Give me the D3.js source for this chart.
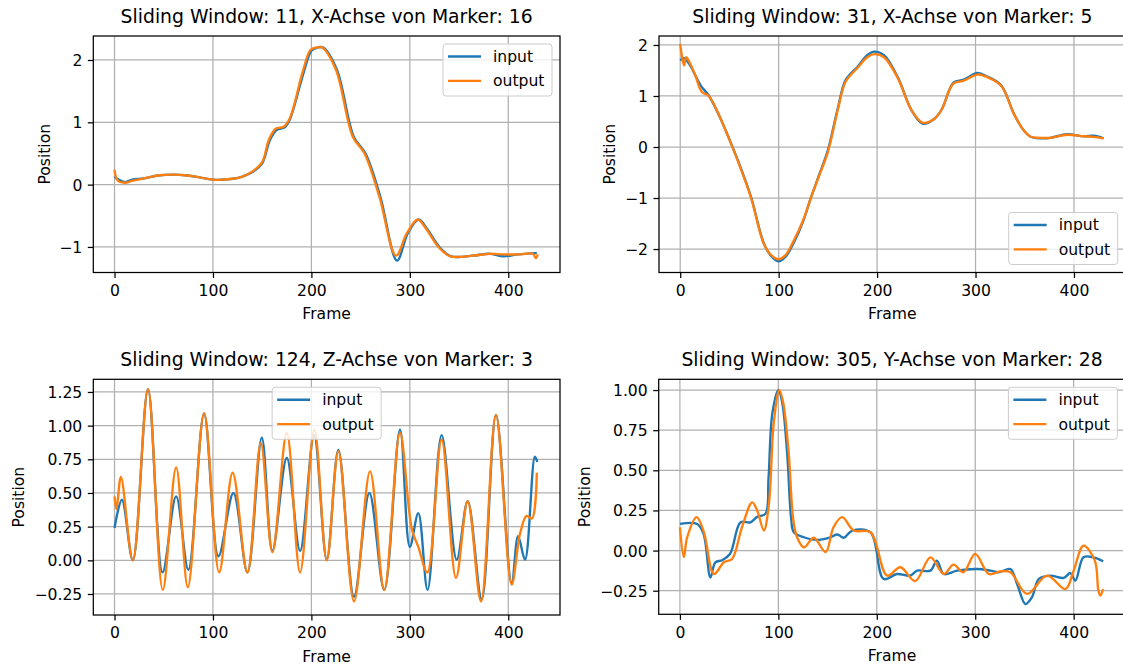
<!DOCTYPE html>
<html>
<head>
<meta charset="utf-8">
<script src="https://cdn.jsdelivr.net/npm/d3@7"></script>
<style>
  html, body { margin: 0; padding: 0; background: #ffffff; }
  svg { display: block; }
  text { font-family: "DejaVu Sans", sans-serif; fill: #000; }
</style>
</head>
<body>
<svg id="fig" width="1123" height="666"></svg>
<script>
// ---- data: [frame, position] pairs per series ----
const titles = [
  "Sliding Window: 11, X-Achse von Marker: 16",
  "Sliding Window: 31, X-Achse von Marker: 5",
  "Sliding Window: 124, Z-Achse von Marker: 3",
  "Sliding Window: 305, Y-Achse von Marker: 28"
];
const seriesNames = ["input", "output"];
const xTickValues = [0, 100, 200, 300, 400];
const yTicks1 = [-1, 0, 1, 2];
const yTicks2 = [-2, -1, 0, 1, 2];
const yTicks3 = [-0.25, 0, 0.25, 0.5, 0.75, 1.0, 1.25];
const yTicks4 = [-0.25, 0, 0.25, 0.5, 0.75, 1.0];

const p1Input = [[0,0.13],[4,0.08],[11,0.04],[18,0.08],[30,0.1],[46,0.15],[60,0.16],[72,0.15],[85,0.12],[100,0.08],[118,0.09],[130,0.13],[141,0.21],[150,0.34],[158,0.72],[165,0.88],[173,0.92],[178,1.04],[192,1.79],[200,2.15],[206,2.2],[212,2.2],[226,1.84],[243,0.77],[255,0.5],[270,-0.19],[287,-1.22],[298,-0.78],[309,-0.56],[318,-0.72],[330,-1.0],[342,-1.15],[364,-1.14],[381,-1.11],[395,-1.15],[410,-1.12],[429,-1.1]];
const p1Output = [[0,0.24],[3,0.07],[10,0.03],[18,0.06],[30,0.1],[46,0.15],[60,0.16],[72,0.15],[85,0.12],[100,0.08],[118,0.09],[130,0.13],[141,0.22],[150,0.36],[157,0.73],[164,0.9],[172,0.93],[178,1.06],[191,1.8],[199,2.16],[205,2.2],[211,2.2],[225,1.84],[242,0.77],[254,0.5],[269,-0.19],[286,-1.14],[297,-0.78],[308,-0.56],[317,-0.72],[329,-1.0],[341,-1.15],[364,-1.14],[381,-1.11],[395,-1.12],[410,-1.12],[425,-1.11],[428,-1.18],[430,-1.12]];

const p2Input = [[0,1.7],[4,1.74],[10,1.6],[21,1.2],[29,1.01],[40,0.6],[50,0.15],[60,-0.33],[72,-0.98],[85,-1.89],[93,-2.15],[100,-2.24],[107,-2.15],[115,-1.89],[125,-1.45],[133,-0.98],[142,-0.5],[150,-0.06],[160,0.75],[168,1.31],[180,1.57],[190,1.8],[197,1.87],[207,1.8],[221,1.37],[235,0.72],[246,0.46],[258,0.55],[266,0.75],[273,1.1],[278,1.27],[288,1.32],[302,1.45],[312,1.38],[326,1.21],[339,0.65],[348,0.35],[356,0.2],[366,0.17],[376,0.18],[393,0.25],[410,0.21],[420,0.22],[430,0.17]];
const p2Output = [[0,2.02],[2,1.75],[4,1.6],[6,1.76],[9,1.68],[15,1.42],[22,1.08],[29,1.0],[40,0.6],[50,0.14],[60,-0.35],[72,-1.0],[85,-1.9],[93,-2.13],[100,-2.2],[107,-2.12],[115,-1.85],[125,-1.43],[133,-0.98],[142,-0.52],[150,-0.1],[160,0.72],[168,1.28],[180,1.55],[190,1.76],[197,1.82],[207,1.76],[221,1.35],[235,0.72],[246,0.48],[258,0.55],[266,0.75],[273,1.1],[278,1.25],[288,1.3],[302,1.42],[312,1.37],[326,1.2],[339,0.65],[348,0.35],[356,0.2],[366,0.18],[376,0.18],[393,0.24],[410,0.21],[420,0.2],[430,0.17]];

const p3Input = [[0,0.24],[7.5,0.45],[18.6,0.0],[34,1.27],[48.8,-0.09],[62.6,0.475],[75,-0.07],[91,1.09],[105.6,0.03],[120.8,0.5],[135,-0.09],[149.6,0.91],[160.4,0.07],[175,0.76],[188.5,0.07],[202.7,0.93],[215.6,0.005],[227.4,0.82],[243.3,-0.27],[258.9,0.5],[274,-0.22],[290,0.97],[300,0.1],[308.6,0.35],[318,-0.22],[332.3,0.93],[347.6,0.005],[358.8,0.44],[373,-0.29],[387.5,1.08],[403.4,-0.17],[410,0.18],[417,0.005],[427,0.77],[429.5,0.73]];
const p3Output = [[0,0.475],[2,0.38],[6.5,0.62],[18.6,0.0],[34,1.27],[49,-0.22],[62.6,0.69],[74.5,-0.2],[91,1.09],[106.3,-0.09],[120,0.65],[135,-0.09],[148.6,0.87],[160.4,0.06],[175,0.945],[188.5,-0.09],[203,0.97],[215.6,0.0],[227.4,0.81],[243.3,-0.305],[259.6,0.66],[274,-0.22],[290,0.945],[302,0.23],[308.6,0.1],[317.8,-0.09],[332.3,0.895],[346.9,-0.13],[358.8,0.44],[372.3,-0.305],[387.5,1.08],[403.4,-0.18],[412,0.2],[418.6,0.33],[424,0.31],[429,0.65]];

const p4Input = [[0,0.166],[17.6,0.166],[24,0.104],[31,-0.167],[36,-0.073],[43,-0.06],[51,-0.02],[61.6,0.176],[71.7,0.176],[78.5,0.21],[87,0.23],[90,0.45],[94,0.86],[100,1.0],[104,0.92],[109,0.6],[113,0.2],[115.7,0.114],[126,0.083],[139,0.066],[153,0.083],[160,0.1],[166.5,0.08],[175,0.125],[193.6,0.114],[207,-0.177],[220.6,-0.146],[234,-0.156],[241,-0.125],[254.5,-0.125],[261,-0.063],[268,-0.146],[281.6,-0.125],[302,-0.115],[315.4,-0.125],[324,-0.135],[335.7,-0.115],[342.5,-0.208],[351,-0.333],[357.7,-0.29],[364.5,-0.177],[376,-0.156],[390,-0.17],[396.6,-0.14],[401.7,-0.187],[410,-0.042],[420,-0.042],[430,-0.067]];
const p4Output = [[0,0.145],[4,-0.04],[7.4,0.083],[17,0.208],[24.4,0.114],[34.5,-0.146],[44.7,-0.073],[53,-0.052],[63,0.145],[73.4,0.3],[78.5,0.25],[85.3,0.125],[90.4,0.29],[95.4,0.8],[101,1.0],[105,0.92],[110.6,0.6],[115,0.2],[119,0.083],[126,0.02],[136,0.08],[148,-0.01],[156,0.145],[164.8,0.208],[176.6,0.125],[193.6,0.114],[210.5,-0.156],[224,-0.104],[239,-0.19],[254.5,-0.042],[268,-0.146],[278,-0.088],[288,-0.135],[300,-0.021],[313.7,-0.146],[325.5,-0.13],[335.7,-0.135],[352.6,-0.27],[373,-0.156],[391.5,-0.24],[400,-0.125],[410,0.031],[421.5,-0.063],[425,-0.245],[427,-0.28],[430,-0.24]];

// ---- layout ----
const colors = ["#1f77b4", "#ff7f0e"];
const xDomain = [-21.55, 452.55];
const panels = [
  { title: titles[0], series: [p1Input, p1Output], yTicks: yTicks1, fmt: d3.format("d"),
    yDomain: [-1.41, 2.385], box: { l: 93.3, r: 560, t: 36, b: 272.5 },
    ylabelOff: 43.5, legend: "upper right" },
  { title: titles[1], series: [p2Input, p2Output], yTicks: yTicks2, fmt: d3.format("d"),
    yDomain: [-2.46, 2.176], box: { l: 659, r: 1125.7, t: 36, b: 272.5 },
    ylabelOff: 44, legend: "lower right" },
  { title: titles[2], series: [p3Input, p3Output], yTicks: yTicks3, fmt: d3.format(".2f"),
    yDomain: [-0.406, 1.344], box: { l: 93.3, r: 560, t: 379.3, b: 615 },
    ylabelOff: 69.3, legend: "upper center" },
  { title: titles[3], series: [p4Input, p4Output], yTicks: yTicks4, fmt: d3.format(".2f"),
    yDomain: [-0.397, 1.067], box: { l: 658.7, r: 1125.4, t: 379.3, b: 614.3 },
    ylabelOff: 68.7, legend: "upper right" }
];

const svg = d3.select("#fig");
const FS = 15.6;        // tick / label / legend font size
const TFS = 18.8;       // title font size
const gridColor = "#b0b0b0";

panels.forEach((p, i) => {
  const { l, r, t, b } = p.box;
  const x = d3.scaleLinear().domain(xDomain).range([l, r]);
  const y = d3.scaleLinear().domain(p.yDomain).range([b, t]);
  const g = svg.append("g");

  const clipId = "clip" + i;
  g.append("clipPath").attr("id", clipId)
    .append("rect").attr("x", l).attr("y", t).attr("width", r - l).attr("height", b - t);

  // grid
  const grid = g.append("g");
  grid.selectAll("line.gx").data(xTickValues).join("line")
    .attr("x1", d => x(d)).attr("x2", d => x(d)).attr("y1", t).attr("y2", b)
    .attr("stroke", gridColor).attr("stroke-width", 1.25);
  grid.selectAll("line.gy").data(p.yTicks).join("line")
    .attr("x1", l).attr("x2", r).attr("y1", d => y(d)).attr("y2", d => y(d))
    .attr("stroke", gridColor).attr("stroke-width", 1.25);

  // lines
  const line = d3.line().x(d => x(d[0])).y(d => y(d[1])).curve(d3.curveCatmullRom.alpha(0.5));
  const lines = g.append("g").attr("clip-path", `url(#${clipId})`);
  p.series.forEach((s, k) => {
    lines.append("path").datum(s).attr("d", line)
      .attr("fill", "none").attr("stroke", colors[k]).attr("stroke-width", 2.35)
      .attr("stroke-linejoin", "round").attr("stroke-linecap", "butt");
  });

  // axes
  const xAxis = d3.axisBottom(x).tickValues(xTickValues).tickSize(5.5).tickPadding(5.5).tickFormat(d3.format("d"));
  const yAxis = d3.axisLeft(y).tickValues(p.yTicks).tickSize(5.5).tickPadding(5.5).tickFormat(p.fmt);
  const gx = g.append("g").attr("transform", `translate(0,${b})`).call(xAxis);
  const gy = g.append("g").attr("transform", `translate(${l},0)`).call(yAxis);
  [gx, gy].forEach(ax => {
    ax.select(".domain").remove();
    ax.selectAll(".tick line").attr("stroke", "#000").attr("stroke-width", 1.25);
    ax.selectAll(".tick text").attr("font-size", FS).attr("font-family", "DejaVu Sans").attr("fill", "#000");
  });
  gx.selectAll(".tick text").attr("dy", null).attr("dominant-baseline", "hanging").attr("y", 12);
  gy.selectAll(".tick text").attr("dy", "0.35em");

  // frame
  g.append("rect").attr("x", l).attr("y", t).attr("width", r - l).attr("height", b - t)
    .attr("fill", "none").attr("stroke", "#000").attr("stroke-width", 1.25);

  // title and labels
  g.append("text").attr("x", (l + r) / 2).attr("y", t - 13.5)
    .attr("text-anchor", "middle").attr("font-size", TFS).text(p.title);
  g.append("text").attr("x", (l + r) / 2).attr("y", b + 46.7)
    .attr("text-anchor", "middle").attr("font-size", FS).text("Frame");
  g.append("text")
    .attr("transform", `translate(${l - p.ylabelOff},${(t + b) / 2}) rotate(-90)`)
    .attr("text-anchor", "middle").attr("font-size", FS).text("Position");

  // legend
  const lw = 109, lh = 52, pad = 8;
  let lx, ly;
  if (p.legend === "upper right") { lx = r - pad - lw; ly = t + pad; }
  else if (p.legend === "lower right") { lx = r - pad - lw; ly = b - pad - lh; }
  else { lx = (l + r) / 2 - lw / 2; ly = t + pad; }
  const lg = g.append("g").attr("transform", `translate(${lx},${ly})`);
  lg.append("rect").attr("width", lw).attr("height", lh).attr("rx", 3)
    .attr("fill", "#ffffff").attr("fill-opacity", 0.8)
    .attr("stroke", "#cccccc").attr("stroke-width", 1);
  seriesNames.forEach((name, k) => {
    const cy = 12.5 + k * 24.4;
    lg.append("line").attr("x1", 5).attr("x2", 38).attr("y1", cy).attr("y2", cy)
      .attr("stroke", colors[k]).attr("stroke-width", 2.35);
    lg.append("text").attr("x", 50).attr("y", cy).attr("dy", "0.35em")
      .attr("font-size", FS).text(name);
  });
});
</script>
</body>
</html>
